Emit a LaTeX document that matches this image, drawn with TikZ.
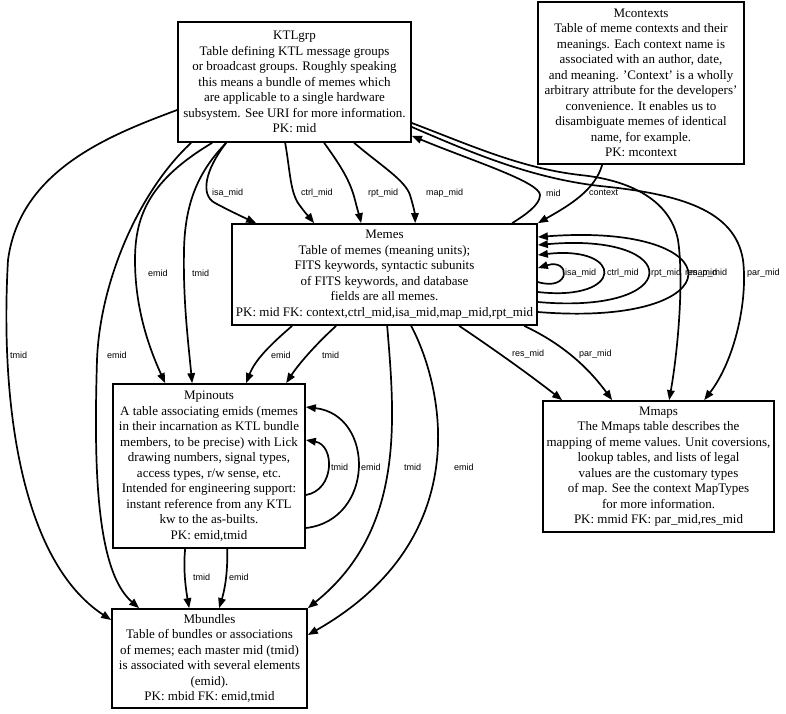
\documentclass[tikz,border=0pt]{standalone}
\usepackage{fontspec}
\setmainfont{Liberation Serif}
\newfontfamily\lblfont{Liberation Sans}
\usetikzlibrary{arrows.meta}
\begin{document}
\begin{tikzpicture}[x=1pt,y=-1pt,
 tbl/.style={draw, line width=1.7pt, rectangle, inner sep=0pt, align=center, font=\fontsize{13}{15.5}\selectfont},
 edge/.style={line width=1.7pt, -{Triangle[length=10pt,width=7.5pt]}},
 elabel/.style={anchor=west, inner sep=0pt, font=\lblfont\fontsize{9}{10.8}\selectfont}]
\useasboundingbox (0,0) rectangle (786,713);
\node[tbl, minimum width=233pt, minimum height=120pt] (ktl) at (294.5,82) {KTLgrp\\Table defining KTL message groups\\or broadcast groups. Roughly speaking\\this means a bundle of memes which\\are applicable to a single hardware\\subsystem. See URI for more information.\\PK: mid};
\node[tbl, minimum width=206pt, minimum height=162pt] (mctx) at (641,83) {Mcontexts\\Table of meme contexts and their\\meanings. Each context name is\\associated with an author, date,\\and meaning. 'Context' is a wholly\\arbitrary attribute for the developers'\\convenience. It enables us to\\disambiguate memes of identical\\name, for example.\\PK: mcontext};
\node[tbl, minimum width=305pt, minimum height=101pt] (memes) at (384.5,274.5) {Memes\\Table of memes (meaning units);\\FITS keywords, syntactic subunits\\of FITS keywords, and database\\fields are all memes.\\PK: mid FK: context,ctrl\_mid,isa\_mid,map\_mid,rpt\_mid};
\node[tbl, minimum width=192pt, minimum height=164pt] (mpin) at (209,466) {Mpinouts\\A table associating emids (memes\\in their incarnation as KTL bundle\\members, to be precise) with Lick\\drawing numbers, signal types,\\access types, r/w sense, etc.\\Intended for engineering support:\\instant reference from any KTL\\kw to the as-builts.\\PK: emid,tmid};
\node[tbl, minimum width=231pt, minimum height=131pt] (mmaps) at (658.5,466.5) {Mmaps\\The Mmaps table describes the\\mapping of meme values. Unit coversions,\\lookup tables, and lists of legal\\values are the customary types\\of map. See the context MapTypes\\for more information.\\PK: mmid FK: par\_mid,res\_mid};
\node[tbl, minimum width=195pt, minimum height=99pt] (mbun) at (209.5,658.5) {Mbundles\\Table of bundles or associations\\of memes; each master mid (tmid)\\is associated with several elements\\(emid).\\PK: mbid FK: emid,tmid};

% KTLgrp -> Mbundles
\draw[edge] ([yshift=-28pt]ktl.west) .. controls (110,135) and (20,170) .. (8,260) .. controls (0,400) and (20,560) .. ([yshift=38.5pt]mbun.west);
\draw[edge] ([xshift=14pt]ktl.south west) .. controls (140,190) and (100,280) .. (97,360) .. controls (94,460) and (95,570) .. ([xshift=28pt]mbun.north west);
% KTLgrp -> Mpinouts
\draw[edge] ([xshift=35pt]ktl.south west) .. controls (150,180) and (135,215) .. (135,260) .. controls (135,310) and (150,350) .. ([xshift=53pt]mpin.north west);
\draw[edge] ([xshift=49pt]ktl.south west) .. controls (200,170) and (185,200) .. (184,250) .. controls (183,300) and (188,340) .. ([xshift=80pt]mpin.north west);
% KTLgrp -> Memes
\draw[edge] ([xshift=49pt]ktl.south west) .. controls (205,170) and (200,195) .. (215,203) .. controls (230,211) and (245,218) .. ([xshift=25pt]memes.north west);
\draw[edge] ([xshift=108pt]ktl.south west) .. controls (290,170) and (290,190) .. (298,203) .. controls (305,213) and (310,218) .. ([xshift=83pt]memes.north west);
\draw[edge] ([xshift=147pt]ktl.south west) .. controls (340,165) and (350,180) .. (355,200) .. controls (358,212) and (360,218) .. ([xshift=130pt]memes.north west);
\draw[edge] ([xshift=177pt]ktl.south west) .. controls (380,165) and (405,180) .. (410,195) .. controls (414,208) and (415,215) .. ([xshift=184pt]memes.north west);
% Memes -> KTLgrp (mid)
\draw[edge] ([xshift=281pt]memes.north west) .. controls (525,215) and (540,205) .. (540,195) .. controls (540,182) and (470,160) .. ([yshift=7pt]ktl.south east);
% Mcontexts -> Memes
\draw[edge] ([xshift=65pt]mctx.south west) .. controls (595,190) and (570,205) .. (memes.north east);
% KTLgrp -> Mmaps
\draw[edge] ([yshift=-41pt]ktl.east) .. controls (470,145) and (520,168) .. (580,175) .. controls (630,180) and (670,200) .. (678,240) .. controls (684,280) and (678,350) .. ([xshift=127pt]mmaps.north west);
\draw[edge] ([yshift=-45pt]ktl.east) .. controls (470,152) and (530,178) .. (600,186) .. controls (680,194) and (735,210) .. (743,260) .. controls (748,300) and (735,360) .. ([xshift=162pt]mmaps.north west);
% Memes self loops
\draw[edge] ([yshift=-7.5pt]memes.east) .. controls (571,292) and (571,258) .. ([yshift=6.5pt]memes.east);
\draw[edge] ([yshift=-17.5pt]memes.east) .. controls (625,302) and (625,245) .. ([yshift=19.5pt]memes.east);
\draw[edge] ([yshift=-27.5pt]memes.east) .. controls (685,315) and (685,232) .. ([yshift=29.5pt]memes.east);
\draw[edge] ([yshift=-37.5pt]memes.east) .. controls (737,328) and (737,222) .. ([yshift=37.5pt]memes.east);
% Memes -> Mmaps
\draw[edge] ([xshift=228pt]memes.south west) .. controls (495,350) and (530,375) .. ([xshift=20pt]mmaps.north west);
\draw[edge] ([xshift=293pt]memes.south west) .. controls (565,345) and (590,370) .. ([xshift=70pt]mmaps.north west);
% Memes -> Mpinouts
\draw[edge] ([xshift=61pt]memes.south west) .. controls (270,345) and (255,360) .. ([xshift=134pt]mpin.north west);
\draw[edge] ([xshift=105pt]memes.south west) .. controls (315,345) and (298,365) .. ([xshift=174pt]mpin.north west);
% Memes -> Mbundles
\draw[edge] ([xshift=156pt]memes.south west) .. controls (395,420) and (405,530) .. (mbun.north east);
\draw[edge] ([xshift=180pt]memes.south west) .. controls (445,390) and (475,540) .. ([yshift=23.5pt]mbun.east);
% Mpinouts self loops
\draw[edge] ([yshift=-29pt]mpin.east) .. controls (335,490) and (335,445) .. ([yshift=26pt]mpin.east);
\draw[edge] ([yshift=-62pt]mpin.east) .. controls (375,520) and (375,415) .. ([yshift=59pt]mpin.east);
% Mpinouts -> Mbundles
\draw[edge] ([xshift=73pt]mpin.south west) .. controls (183,570) and (186,590) .. ([xshift=78pt]mbun.north west);
\draw[edge] ([xshift=115pt]mpin.south west) .. controls (228,575) and (224,592) .. ([xshift=108pt]mbun.north west);

% labels
\node[elabel] (la1) at (10,355) {tmid};
\node[elabel] (la2) at (107,355) {emid};
\node[elabel] (la3) at (148,273) {emid};
\node[elabel] (la4) at (192,273) {tmid};
\node[elabel] (la5) at (212,193) {isa\_mid};
\node[elabel] (la6) at (301,193) {ctrl\_mid};
\node[elabel] (la7) at (368,193) {rpt\_mid};
\node[elabel] (la8) at (426,193) {map\_mid};
\node[elabel] (la9) at (546,193) {mid};
\node[elabel] (la10) at (589,193) {context};
\node[elabel] (la11) at (565,273) {isa\_mid};
\node[elabel] (la12) at (607,273) {ctrl\_mid};
\node[elabel] (la13) at (651,273) {rpt\_mid};
\node[elabel] (la14) at (690,273) {map\_mid};
\node[elabel] (la15) at (685,273) {res\_mid};
\node[elabel] (la16) at (747,273) {par\_mid};
\node[elabel] (la17) at (271,355) {emid};
\node[elabel] (la18) at (322,355) {tmid};
\node[elabel] (la19) at (512,354) {res\_mid};
\node[elabel] (la20) at (579,354) {par\_mid};
\node[elabel] (la21) at (331,467) {tmid};
\node[elabel] (la22) at (361,467) {emid};
\node[elabel] (la23) at (404,467) {tmid};
\node[elabel] (la24) at (454,467) {emid};
\node[elabel] (la25) at (193,577) {tmid};
\node[elabel] (la26) at (229,577) {emid};
\end{tikzpicture}
\end{document}
